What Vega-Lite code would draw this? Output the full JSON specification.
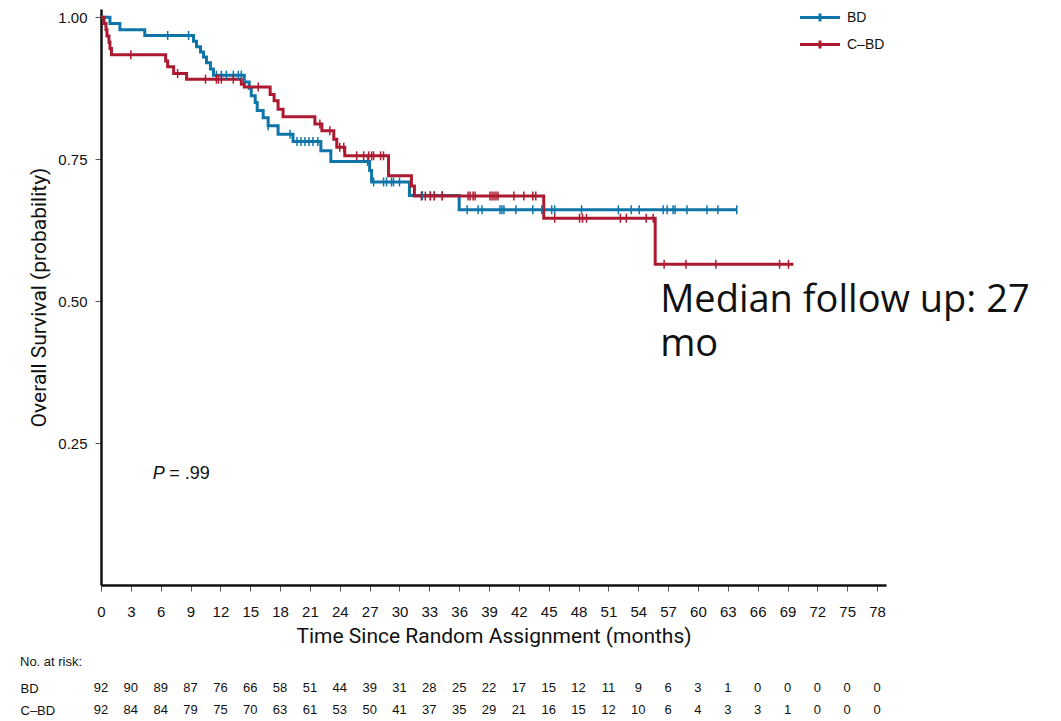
{
  "$schema": "https://vega.github.io/schema/vega-lite/v6.json",
  "padding": {"left": 20, "top": 9, "right": 5, "bottom": 0},
  "background": "white",
  "config": {
    "view": {"stroke": null},
    "axis": {"labelFont": "Liberation Sans", "titleFont": "Roboto", "labelColor": "#111", "titleColor": "#111", "domainColor": "#111", "tickColor": "#555", "grid": false, "titleFontWeight": "normal"},
    "legend": {"padding": 0}
  },
  "datasets": {
    "surv": [
      {"arm": "BD", "t": 0, "s": 1.0}, {"arm": "BD", "t": 0.9, "s": 0.989}, {"arm": "BD", "t": 1.9, "s": 0.978}, {"arm": "BD", "t": 4.4, "s": 0.968},
      {"arm": "BD", "t": 9.3, "s": 0.958}, {"arm": "BD", "t": 9.6, "s": 0.948}, {"arm": "BD", "t": 10.0, "s": 0.939}, {"arm": "BD", "t": 10.3, "s": 0.93},
      {"arm": "BD", "t": 10.6, "s": 0.92}, {"arm": "BD", "t": 11.0, "s": 0.909}, {"arm": "BD", "t": 11.3, "s": 0.898}, {"arm": "BD", "t": 14.4, "s": 0.886},
      {"arm": "BD", "t": 14.9, "s": 0.875}, {"arm": "BD", "t": 15.1, "s": 0.862}, {"arm": "BD", "t": 15.5, "s": 0.85}, {"arm": "BD", "t": 15.7, "s": 0.836},
      {"arm": "BD", "t": 16.3, "s": 0.823}, {"arm": "BD", "t": 16.8, "s": 0.809}, {"arm": "BD", "t": 17.8, "s": 0.794}, {"arm": "BD", "t": 19.3, "s": 0.781},
      {"arm": "BD", "t": 22.1, "s": 0.765}, {"arm": "BD", "t": 23.1, "s": 0.746}, {"arm": "BD", "t": 27.0, "s": 0.73}, {"arm": "BD", "t": 27.2, "s": 0.71},
      {"arm": "BD", "t": 31.0, "s": 0.686}, {"arm": "BD", "t": 36.0, "s": 0.661}, {"arm": "BD", "t": 63.9, "s": 0.661},
      {"arm": "C–BD", "t": 0, "s": 1.0}, {"arm": "C–BD", "t": 0.3, "s": 0.989}, {"arm": "C–BD", "t": 0.5, "s": 0.978}, {"arm": "C–BD", "t": 0.6, "s": 0.967},
      {"arm": "C–BD", "t": 0.8, "s": 0.956}, {"arm": "C–BD", "t": 0.9, "s": 0.945}, {"arm": "C–BD", "t": 1.05, "s": 0.934}, {"arm": "C–BD", "t": 6.5, "s": 0.923},
      {"arm": "C–BD", "t": 6.7, "s": 0.913}, {"arm": "C–BD", "t": 7.3, "s": 0.901}, {"arm": "C–BD", "t": 8.6, "s": 0.891}, {"arm": "C–BD", "t": 14.1, "s": 0.882},
      {"arm": "C–BD", "t": 14.4, "s": 0.877}, {"arm": "C–BD", "t": 17.0, "s": 0.864}, {"arm": "C–BD", "t": 17.4, "s": 0.853}, {"arm": "C–BD", "t": 17.8, "s": 0.838},
      {"arm": "C–BD", "t": 18.3, "s": 0.825}, {"arm": "C–BD", "t": 21.5, "s": 0.812}, {"arm": "C–BD", "t": 22.2, "s": 0.8}, {"arm": "C–BD", "t": 23.4, "s": 0.785},
      {"arm": "C–BD", "t": 23.7, "s": 0.771}, {"arm": "C–BD", "t": 24.5, "s": 0.756}, {"arm": "C–BD", "t": 28.9, "s": 0.721}, {"arm": "C–BD", "t": 31.2, "s": 0.703},
      {"arm": "C–BD", "t": 31.5, "s": 0.685}, {"arm": "C–BD", "t": 44.5, "s": 0.646}, {"arm": "C–BD", "t": 55.7, "s": 0.565}, {"arm": "C–BD", "t": 69.6, "s": 0.565}
    ],
    "cens": [
      {"arm": "BD", "t": 6.7, "s": 0.968}, {"arm": "BD", "t": 8.8, "s": 0.968},
      {"arm": "BD", "t": 11.6, "s": 0.898}, {"arm": "BD", "t": 12.1, "s": 0.898}, {"arm": "BD", "t": 12.6, "s": 0.898}, {"arm": "BD", "t": 13.3, "s": 0.898}, {"arm": "BD", "t": 13.8, "s": 0.898}, {"arm": "BD", "t": 14.1, "s": 0.898},
      {"arm": "BD", "t": 16.8, "s": 0.809}, {"arm": "BD", "t": 19.0, "s": 0.794},
      {"arm": "BD", "t": 19.7, "s": 0.781}, {"arm": "BD", "t": 20.1, "s": 0.781}, {"arm": "BD", "t": 20.5, "s": 0.781}, {"arm": "BD", "t": 20.9, "s": 0.781}, {"arm": "BD", "t": 21.3, "s": 0.781}, {"arm": "BD", "t": 21.8, "s": 0.781},
      {"arm": "BD", "t": 26.8, "s": 0.746},
      {"arm": "BD", "t": 27.4, "s": 0.71}, {"arm": "BD", "t": 28.4, "s": 0.71}, {"arm": "BD", "t": 28.7, "s": 0.71}, {"arm": "BD", "t": 29.2, "s": 0.71}, {"arm": "BD", "t": 29.4, "s": 0.71}, {"arm": "BD", "t": 30.0, "s": 0.71},
      {"arm": "BD", "t": 32.3, "s": 0.686}, {"arm": "BD", "t": 33.1, "s": 0.686}, {"arm": "BD", "t": 33.5, "s": 0.686}, {"arm": "BD", "t": 34.3, "s": 0.686},
      {"arm": "BD", "t": 36.8, "s": 0.661}, {"arm": "BD", "t": 37.9, "s": 0.661}, {"arm": "BD", "t": 38.3, "s": 0.661}, {"arm": "BD", "t": 40.1, "s": 0.661}, {"arm": "BD", "t": 40.3, "s": 0.661}, {"arm": "BD", "t": 40.5, "s": 0.661},
      {"arm": "BD", "t": 41.7, "s": 0.661}, {"arm": "BD", "t": 43.4, "s": 0.661}, {"arm": "BD", "t": 44.3, "s": 0.661}, {"arm": "BD", "t": 45.3, "s": 0.661}, {"arm": "BD", "t": 45.6, "s": 0.661}, {"arm": "BD", "t": 48.3, "s": 0.661},
      {"arm": "BD", "t": 52.0, "s": 0.661}, {"arm": "BD", "t": 53.3, "s": 0.661}, {"arm": "BD", "t": 54.1, "s": 0.661}, {"arm": "BD", "t": 56.5, "s": 0.661}, {"arm": "BD", "t": 56.9, "s": 0.661}, {"arm": "BD", "t": 57.5, "s": 0.661},
      {"arm": "BD", "t": 57.7, "s": 0.661}, {"arm": "BD", "t": 58.9, "s": 0.661}, {"arm": "BD", "t": 60.9, "s": 0.661}, {"arm": "BD", "t": 62.0, "s": 0.661}, {"arm": "BD", "t": 63.9, "s": 0.661},
      {"arm": "C–BD", "t": 3.0, "s": 0.934}, {"arm": "C–BD", "t": 7.7, "s": 0.901},
      {"arm": "C–BD", "t": 10.5, "s": 0.891}, {"arm": "C–BD", "t": 11.6, "s": 0.891}, {"arm": "C–BD", "t": 11.8, "s": 0.891}, {"arm": "C–BD", "t": 12.1, "s": 0.891}, {"arm": "C–BD", "t": 13.3, "s": 0.891},
      {"arm": "C–BD", "t": 15.8, "s": 0.877}, {"arm": "C–BD", "t": 22.0, "s": 0.812}, {"arm": "C–BD", "t": 23.0, "s": 0.8}, {"arm": "C–BD", "t": 24.0, "s": 0.771}, {"arm": "C–BD", "t": 24.4, "s": 0.771},
      {"arm": "C–BD", "t": 25.7, "s": 0.756}, {"arm": "C–BD", "t": 26.4, "s": 0.756}, {"arm": "C–BD", "t": 26.9, "s": 0.756}, {"arm": "C–BD", "t": 27.2, "s": 0.756}, {"arm": "C–BD", "t": 27.4, "s": 0.756}, {"arm": "C–BD", "t": 28.1, "s": 0.756}, {"arm": "C–BD", "t": 28.4, "s": 0.756},
      {"arm": "C–BD", "t": 32.2, "s": 0.685}, {"arm": "C–BD", "t": 32.6, "s": 0.685}, {"arm": "C–BD", "t": 33.1, "s": 0.685}, {"arm": "C–BD", "t": 33.5, "s": 0.685}, {"arm": "C–BD", "t": 34.3, "s": 0.685},
      {"arm": "C–BD", "t": 36.9, "s": 0.685}, {"arm": "C–BD", "t": 37.1, "s": 0.685}, {"arm": "C–BD", "t": 37.4, "s": 0.685}, {"arm": "C–BD", "t": 37.6, "s": 0.685},
      {"arm": "C–BD", "t": 39.1, "s": 0.685}, {"arm": "C–BD", "t": 39.3, "s": 0.685}, {"arm": "C–BD", "t": 39.5, "s": 0.685}, {"arm": "C–BD", "t": 39.7, "s": 0.685}, {"arm": "C–BD", "t": 39.9, "s": 0.685},
      {"arm": "C–BD", "t": 41.5, "s": 0.685}, {"arm": "C–BD", "t": 42.5, "s": 0.685}, {"arm": "C–BD", "t": 43.4, "s": 0.685}, {"arm": "C–BD", "t": 43.7, "s": 0.685},
      {"arm": "C–BD", "t": 45.6, "s": 0.646}, {"arm": "C–BD", "t": 48.1, "s": 0.646}, {"arm": "C–BD", "t": 48.4, "s": 0.646}, {"arm": "C–BD", "t": 48.8, "s": 0.646},
      {"arm": "C–BD", "t": 52.2, "s": 0.646}, {"arm": "C–BD", "t": 52.8, "s": 0.646}, {"arm": "C–BD", "t": 54.8, "s": 0.646}, {"arm": "C–BD", "t": 55.5, "s": 0.646},
      {"arm": "C–BD", "t": 56.6, "s": 0.565}, {"arm": "C–BD", "t": 58.8, "s": 0.565}, {"arm": "C–BD", "t": 61.8, "s": 0.565}, {"arm": "C–BD", "t": 68.2, "s": 0.565}, {"arm": "C–BD", "t": 69.1, "s": 0.565}
    ],
    "risk": [
      {"arm": "BD", "t": 0, "n": 92}, {"arm": "BD", "t": 3, "n": 90}, {"arm": "BD", "t": 6, "n": 89}, {"arm": "BD", "t": 9, "n": 87}, {"arm": "BD", "t": 12, "n": 76},
      {"arm": "BD", "t": 15, "n": 66}, {"arm": "BD", "t": 18, "n": 58}, {"arm": "BD", "t": 21, "n": 51}, {"arm": "BD", "t": 24, "n": 44}, {"arm": "BD", "t": 27, "n": 39},
      {"arm": "BD", "t": 30, "n": 31}, {"arm": "BD", "t": 33, "n": 28}, {"arm": "BD", "t": 36, "n": 25}, {"arm": "BD", "t": 39, "n": 22}, {"arm": "BD", "t": 42, "n": 17},
      {"arm": "BD", "t": 45, "n": 15}, {"arm": "BD", "t": 48, "n": 12}, {"arm": "BD", "t": 51, "n": 11}, {"arm": "BD", "t": 54, "n": 9}, {"arm": "BD", "t": 57, "n": 6},
      {"arm": "BD", "t": 60, "n": 3}, {"arm": "BD", "t": 63, "n": 1}, {"arm": "BD", "t": 66, "n": 0}, {"arm": "BD", "t": 69, "n": 0}, {"arm": "BD", "t": 72, "n": 0},
      {"arm": "BD", "t": 75, "n": 0}, {"arm": "BD", "t": 78, "n": 0},
      {"arm": "C–BD", "t": 0, "n": 92}, {"arm": "C–BD", "t": 3, "n": 84}, {"arm": "C–BD", "t": 6, "n": 84}, {"arm": "C–BD", "t": 9, "n": 79}, {"arm": "C–BD", "t": 12, "n": 75},
      {"arm": "C–BD", "t": 15, "n": 70}, {"arm": "C–BD", "t": 18, "n": 63}, {"arm": "C–BD", "t": 21, "n": 61}, {"arm": "C–BD", "t": 24, "n": 53}, {"arm": "C–BD", "t": 27, "n": 50},
      {"arm": "C–BD", "t": 30, "n": 41}, {"arm": "C–BD", "t": 33, "n": 37}, {"arm": "C–BD", "t": 36, "n": 35}, {"arm": "C–BD", "t": 39, "n": 29}, {"arm": "C–BD", "t": 42, "n": 21},
      {"arm": "C–BD", "t": 45, "n": 16}, {"arm": "C–BD", "t": 48, "n": 15}, {"arm": "C–BD", "t": 51, "n": 12}, {"arm": "C–BD", "t": 54, "n": 10}, {"arm": "C–BD", "t": 57, "n": 6},
      {"arm": "C–BD", "t": 60, "n": 4}, {"arm": "C–BD", "t": 63, "n": 3}, {"arm": "C–BD", "t": 66, "n": 3}, {"arm": "C–BD", "t": 69, "n": 1}, {"arm": "C–BD", "t": 72, "n": 0},
      {"arm": "C–BD", "t": 75, "n": 0}, {"arm": "C–BD", "t": 78, "n": 0}
    ]
  },
  "spacing": 10,
  "vconcat": [
    {
      "width": 785,
      "height": 576,
      "layer": [
        {
          "data": {"name": "surv"},
          "mark": {"type": "line", "interpolate": "step-after", "strokeWidth": 3},
          "encoding": {
            "x": {"field": "t", "type": "quantitative", "scale": {"domain": [0, 78.9], "nice": false, "zero": false},
              "axis": {"title": "Time Since Random Assignment (months)", "values": [0,3,6,9,12,15,18,21,24,27,30,33,36,39,42,45,48,51,54,57,60,63,66,69,72,75,78], "tickCount": 40, "format": "d",
                "labelFontSize": 15, "labelPadding": 13, "labelFlush": false, "labelOverlap": false, "labelBound": false, "tickSize": 6, "tickWidth": 1, "domainWidth": 2.5, "titleFontSize": 21, "titlePadding": 6}},
            "y": {"field": "s", "type": "quantitative", "scale": {"domain": [0, 1.0146], "nice": false},
              "axis": {"title": "Overall Survival (probability)", "values": [0.25, 0.5, 0.75, 1.0], "tickCount": 10, "format": ".2f", "labelOverlap": false,
                "labelFontSize": 15, "labelPadding": 8, "tickSize": 6, "tickWidth": 1, "domainWidth": 2.5, "titleFontSize": 21, "titlePadding": 8}},
            "color": {"field": "arm", "type": "nominal", "scale": {"domain": ["BD", "C–BD"], "range": ["#0f75a8", "#ad1a30"]},
              "legend": {"title": null, "orient": "none", "legendX": 712, "legendY": 1.5, "symbolType": "M-4,0H4M0,-0.8V0.8", "symbolSize": 100, "symbolStrokeWidth": 3, "symbolOpacity": 1,
                "labelFontSize": 14, "labelFont": "Liberation Sans", "labelColor": "#111", "labelOffset": 20, "rowPadding": 7}}
          }
        },
        {
          "data": {"name": "cens"},
          "mark": {"type": "tick", "orient": "vertical", "size": 9, "thickness": 1.5, "opacity": 1},
          "encoding": {
            "x": {"field": "t", "type": "quantitative"},
            "y": {"field": "s", "type": "quantitative"},
            "color": {"field": "arm", "type": "nominal"}
          }
        },
        {
          "data": {"values": [{}]},
          "mark": {"type": "text", "text": "P", "fontStyle": "italic", "font": "Liberation Sans", "fontSize": 18, "align": "left", "baseline": "alphabetic", "color": "#111"},
          "encoding": {"x": {"datum": 5.2, "type": "quantitative"}, "y": {"datum": 0.187, "type": "quantitative"}}
        },
        {
          "data": {"values": [{}]},
          "mark": {"type": "text", "text": "= .99", "font": "Liberation Sans", "fontSize": 18, "align": "left", "baseline": "alphabetic", "color": "#111"},
          "encoding": {"x": {"datum": 6.85, "type": "quantitative"}, "y": {"datum": 0.187, "type": "quantitative"}}
        },
        {
          "data": {"values": [{}]},
          "mark": {"type": "text", "text": ["Median follow up: 27", "mo"], "font": "Open Sans", "fontSize": 38, "lineHeight": 44, "align": "left", "baseline": "alphabetic", "color": "#111"},
          "encoding": {"x": {"datum": 56.2, "type": "quantitative"}, "y": {"datum": 0.481, "type": "quantitative"}}
        }
      ]
    },
    {
      "width": 785,
      "height": 44,
      "title": {"text": "No. at risk:", "anchor": "start", "fontSize": 13, "fontWeight": "normal", "font": "Liberation Sans", "color": "#111", "offset": 8},
      "data": {"name": "risk"},
      "mark": {"type": "text", "fontSize": 13, "font": "Liberation Sans", "color": "#111"},
      "encoding": {
        "x": {"field": "t", "type": "quantitative", "scale": {"domain": [0, 78.9], "nice": false, "zero": false}, "axis": null},
        "y": {"field": "arm", "type": "nominal", "sort": ["BD", "C–BD"], "scale": {"paddingInner": 0, "paddingOuter": 0},
          "axis": {"title": null, "domain": false, "ticks": false, "tickSize": 0, "labelAlign": "left", "labelPadding": 81, "labelFontSize": 13, "labelColor": "#111"}},
        "text": {"field": "n", "type": "quantitative"}
      }
    }
  ]
}
